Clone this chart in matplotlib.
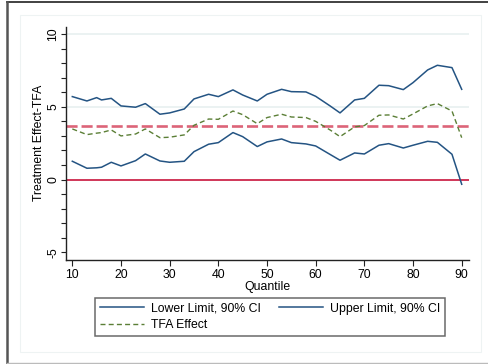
import matplotlib
matplotlib.use("Agg")
import matplotlib.pyplot as plt
from matplotlib.lines import Line2D
from matplotlib.patches import Rectangle

plt.rcParams['font.family'] = ['Liberation Sans', 'DejaVu Sans']

quantiles = [10, 13, 15, 16, 18, 20, 23, 25, 28, 30, 33, 35, 38, 40, 43, 45, 48, 50,
             53, 55, 58, 60, 63, 65, 68, 70, 73, 75, 78, 80, 83, 85, 88, 90]
upper = [5.70, 5.40, 5.63, 5.47, 5.58, 5.06, 4.97, 5.22, 4.49, 4.58, 4.85, 5.54, 5.86, 5.70,
         6.16, 5.81, 5.40, 5.86, 6.20, 6.04, 6.02, 5.72, 5.05, 4.58, 5.47, 5.58, 6.48, 6.45,
         6.18, 6.66, 7.53, 7.85, 7.69, 6.20]
lower = [1.26, 0.78, 0.81, 0.85, 1.19, 0.94, 1.30, 1.76, 1.28, 1.19, 1.26, 1.92, 2.43, 2.54,
         3.23, 2.95, 2.27, 2.59, 2.79, 2.54, 2.45, 2.31, 1.72, 1.33, 1.83, 1.76, 2.36, 2.47,
         2.17, 2.36, 2.63, 2.56, 1.74, -0.32]
tfa = [3.48, 3.09, 3.19, 3.23, 3.41, 3.00, 3.13, 3.48, 2.88, 2.91, 3.07, 3.73, 4.16, 4.14,
       4.71, 4.46, 3.84, 4.26, 4.49, 4.30, 4.26, 4.00, 3.40, 2.95, 3.62, 3.71, 4.42, 4.44,
       4.16, 4.51, 5.06, 5.22, 4.71, 2.88]
mean_effect = 3.68
x_ticks = [10, 20, 30, 40, 50, 60, 70, 80, 90]
y_ticks = [-5, 0, 5, 10]
y_minor = list(range(-5, 11))

W, H = 488, 364
fig = plt.figure(figsize=(W / 100, H / 100), dpi=100)
fig.patch.set_facecolor('white')

ax = fig.add_axes([65.7 / W, 1 - 259.7 / H, (469.3 - 65.7) / W, (259.7 - 26.7) / H])
ax.set_xlim(8.64, 91.56)
ax.set_ylim(-5.5, 10.5)

navy = '#245483'
green = '#5B7F36'
for gy in [5, 10]:
    ax.axhline(gy, color='#E8F0F0', lw=1.2, zorder=1)
ax.axhline(0, color='#C8143C', lw=1.2, zorder=2)
ax.axhline(mean_effect, color='#DC6478', lw=1.9, dashes=(4.2, 1.5), zorder=2)

l_low, = ax.plot(quantiles, lower, color=navy, lw=1.1, label='Lower Limit, 90% CI', zorder=3)
l_up, = ax.plot(quantiles, upper, color=navy, lw=1.1, label='Upper Limit, 90% CI', zorder=3)
l_tfa, = ax.plot(quantiles, tfa, color=green, lw=1.0, dashes=(3.6, 2.3), label='TFA Effect', zorder=3)

for s in ['top', 'right']:
    ax.spines[s].set_visible(False)
for s in ['left', 'bottom']:
    ax.spines[s].set_color('#222222')
    ax.spines[s].set_linewidth(1.0)

ax.set_xticks(x_ticks)
ax.set_xticklabels([str(v) for v in x_ticks], fontsize=8.8)
ax.set_yticks(y_ticks)
ax.set_yticklabels([str(v) for v in y_ticks], fontsize=8.8, rotation=90, va='center')
ax.set_yticks(y_minor, minor=True)
ax.tick_params(axis='x', which='major', length=4.5, width=0.8, color='#222222', pad=2.5)
ax.tick_params(axis='y', which='major', length=3.6, width=0.8, color='#222222', pad=1.2)
ax.tick_params(axis='y', which='minor', length=3.6, width=0.8, color='#222222')
ax.set_xlabel('Quantile', fontsize=8.8, labelpad=0)
ax.set_ylabel('Treatment Effect-TFA', fontsize=8.8)
ax.yaxis.set_label_coords((45 - 65.7) / (469.3 - 65.7), 0.5)

leg = fig.legend([l_low, l_tfa, l_up],
                 ['Lower Limit, 90% CI', 'TFA Effect', 'Upper Limit, 90% CI'],
                 loc='upper left', bbox_to_anchor=(95 / W, 1 - 297.7 / H),
                 ncol=2, fontsize=8.8, frameon=True, fancybox=False,
                 handlelength=3.6, handletextpad=0.55, columnspacing=1.5,
                 borderpad=0.4, labelspacing=0.35, borderaxespad=0)
leg.get_frame().set_edgecolor('#444444')
leg.get_frame().set_linewidth(1.1)

# outer frame and faint inner region
fig.add_artist(Line2D([6.5 / W, 1], [1 - 2 / H, 1 - 2 / H], transform=fig.transFigure,
                      color='#333333', lw=1.3))
fig.add_artist(Line2D([6.5 / W, 6.5 / W], [1 - 2 / H, 1 - 362.5 / H], transform=fig.transFigure,
                      color='#555555', lw=1.8))
fig.add_artist(Line2D([6.5 / W, 1], [1 - 362.5 / H, 1 - 362.5 / H], transform=fig.transFigure,
                      color='#BBBBBB', lw=1.0))
fig.add_artist(Rectangle((19.5 / W, 1 - 351.7 / H), (480.7 - 19.5) / W, (351.7 - 14.5) / H,
                         transform=fig.transFigure, fill=False, edgecolor='#EEF3F3', lw=0.8))

fig.savefig('out.png', dpi=100)
